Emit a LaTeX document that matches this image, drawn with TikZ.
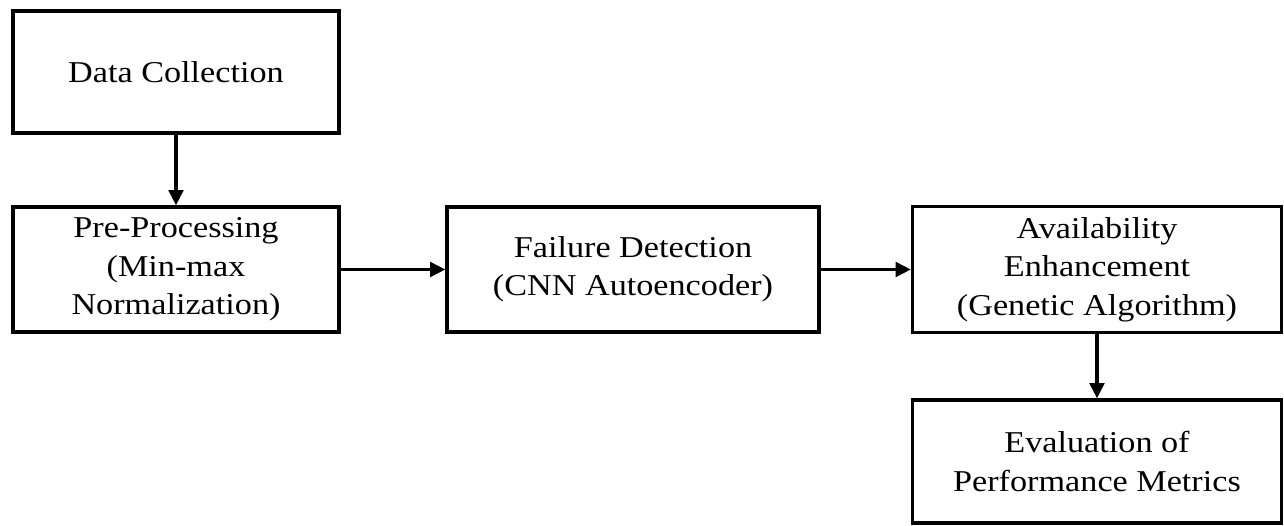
\documentclass[tikz,border=0pt]{standalone}
\usepackage{fontspec}
\setmainfont{Liberation Serif}[FakeStretch=1.13]
\usetikzlibrary{arrows.meta}
\begin{document}
\begin{tikzpicture}[x=0.75pt,y=-0.75pt,
  box/.style={draw=black,line width=2.5pt,inner sep=0pt,align=center,
    font=\fontsize{22.7pt}{28.8pt}\selectfont},
  flow/.style={line width=2.5pt,-{Triangle[length=11.5pt,width=11pt]}}]
\useasboundingbox (0,0) rectangle (1284,525);
\node[box,minimum width=244.5pt,minimum height=91.5pt] (dc) at (176,72) {Data Collection};
\node[box,minimum width=244.5pt,minimum height=93.75pt] (pp) at (176,269.5) {Pre-Processing\\(Min-max\\Normalization)};
\node[box,minimum width=279pt,minimum height=93.75pt] (fd) at (633,269.5) {Failure Detection\\(CNN Autoencoder)};
\node[box,minimum width=276.75pt,minimum height=94.5pt] (ae) at (1097,269.5) {Availability\\Enhancement\\(Genetic Algorithm)};
\node[box,minimum width=276.75pt,minimum height=92.25pt] (ev) at (1097,461.5) {Evaluation of\\Performance Metrics};
\draw[flow] (dc) -- (pp);
\draw[flow] (pp) -- (fd);
\draw[flow] (fd) -- (ae);
\draw[flow] (ae) -- (ev);
\end{tikzpicture}
\end{document}
